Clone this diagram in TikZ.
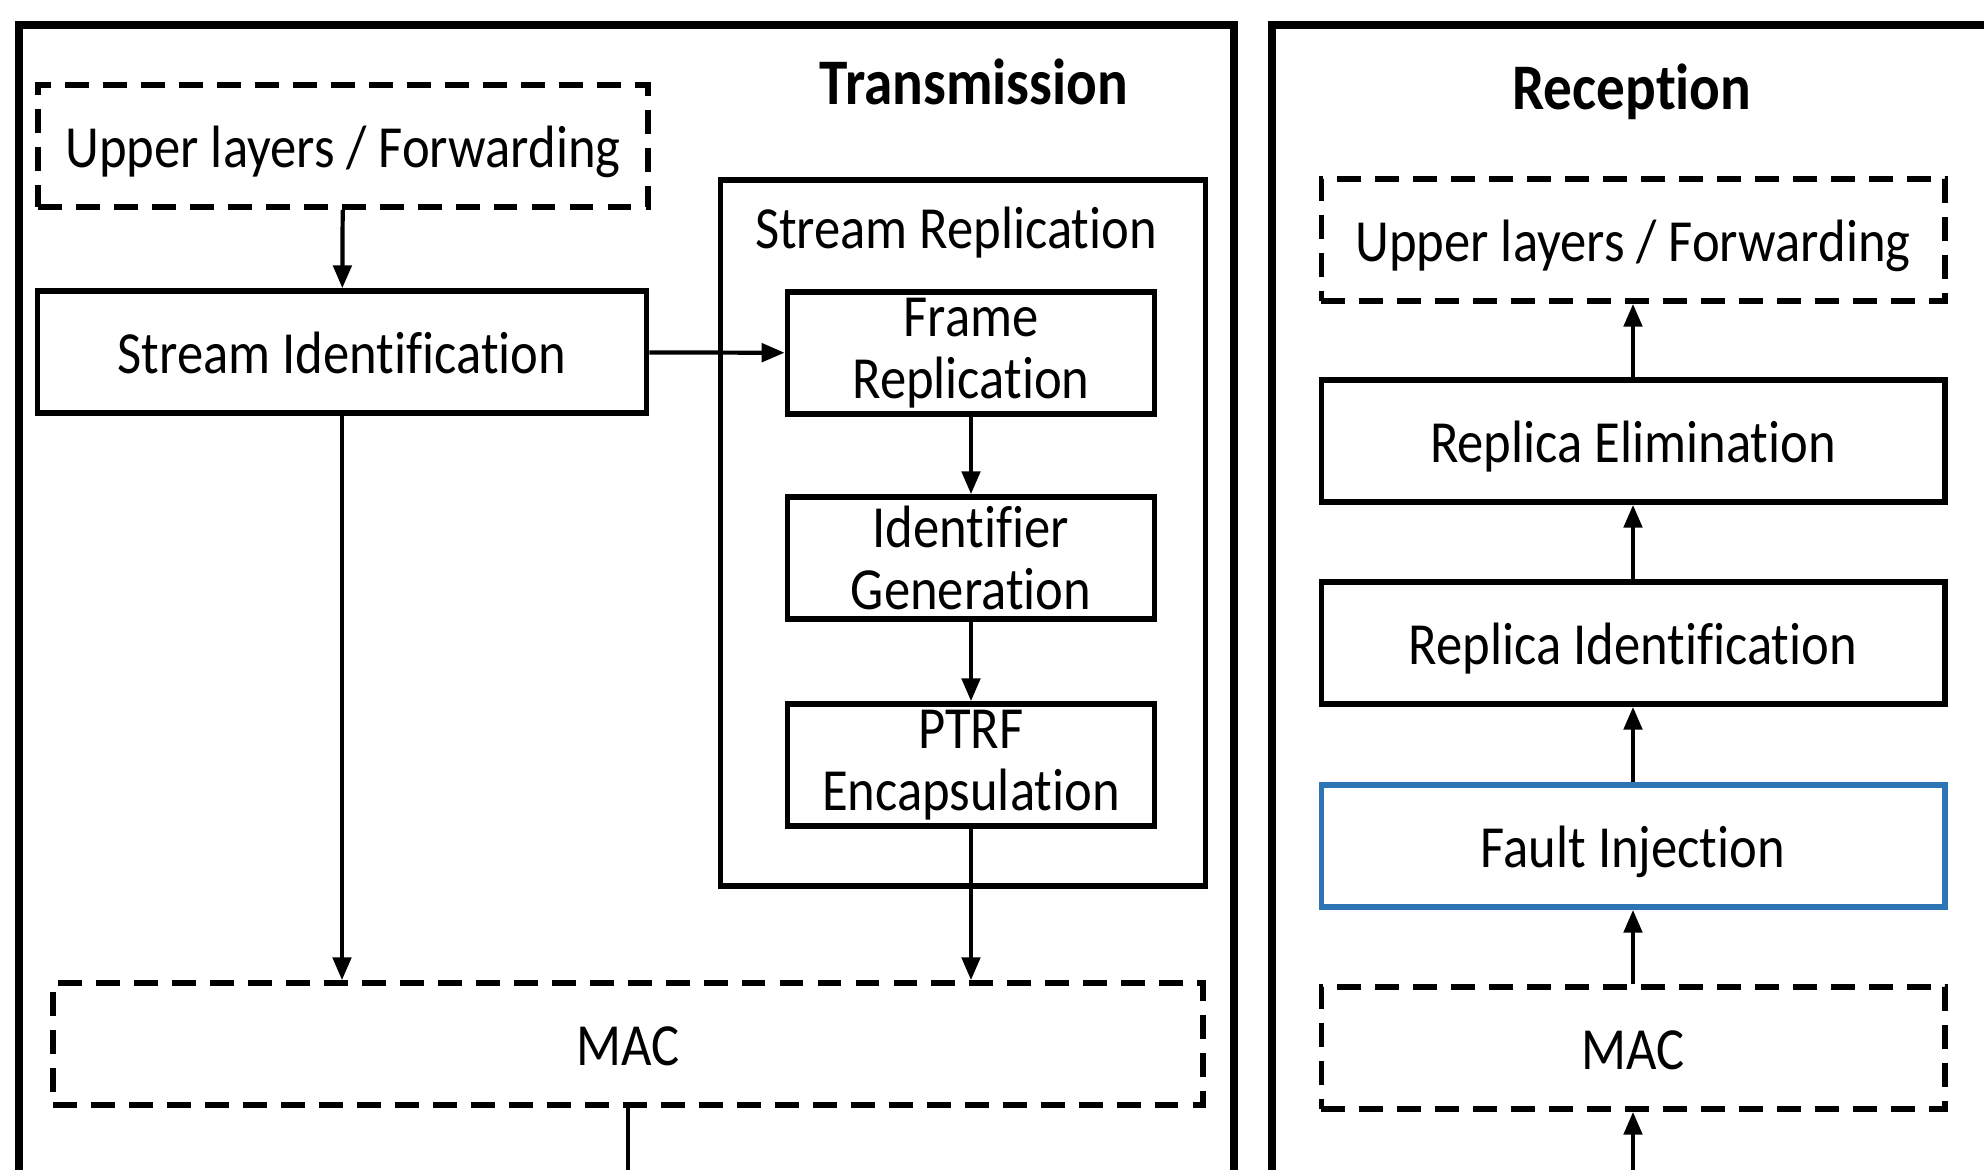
\documentclass[tikz,border=0pt]{standalone}
\usepackage{fontspec}
\setmainfont{Carlito}[FakeStretch=0.88, Ligatures=NoCommon]
\usetikzlibrary{arrows.meta,positioning,fit}
\definecolor{faultblue}{RGB}{46,117,182}

\begin{document}
\begin{tikzpicture}[
  x=0.01cm, y=-0.01cm,
  font=\fontsize{17}{17.6}\selectfont,
  frame/.style={draw, line width=2.4pt},
  box/.style={draw, line width=1.6pt, align=center, inner sep=0pt, minimum height=1.22cm,
    fill=white, text height=12pt, text depth=0pt},
  twobox/.style={box, text height=, text depth=},
  dbox/.style={box, dash pattern=on 6.8pt off 4pt},
  title/.style={font=\fontsize{18.5}{20}\selectfont\bfseries, anchor=base},
  arrow/.style={-{Triangle[length=6.5pt,width=5.2pt]}, line width=1.2pt}
]
\useasboundingbox (0,0) rectangle (1984,1169);

\draw[frame] (19,1250) -- (19,25) -- (1234,25) -- (1234,1250);
\draw[frame] (1272,1250) -- (1272,25) -- (2100,25);

\node[title] (tx) at (974,104) {Transmission};
\node[title] (rx) at (1632,109) {Reception};

% transmission side
\node[dbox, minimum width=6.1cm] (upL) at (343,146) {Upper layers / Forwarding};
\node[box, minimum width=6.09cm] (sid) at (342,352) {Stream Identification};

\node[box, minimum width=4.85cm, minimum height=7.05cm, text height=, text depth=] (srep) at (963,533) {};
\node[anchor=base] (srept) at (956,248) {Stream Replication};

\node[twobox, minimum width=3.67cm] (frep) at (971,353) {Frame\\Replication};
\node[twobox, minimum width=3.67cm] (igen) at (971,558) {Identifier\\Generation};
\node[twobox, minimum width=3.67cm] (ptrf) at (971,765) {PTRF\\Encapsulation};

\node[dbox, minimum width=11.49cm] (macL) at (628,1044) {MAC};
\coordinate (outL) at (628,1200);

\draw[arrow] (upL) -- (sid);
\draw[arrow] (sid) -- (frep);
\draw[arrow] (sid.south) -- (sid.south |- macL.north);
\draw[arrow] (frep) -- (igen);
\draw[arrow] (igen) -- (ptrf);
\draw[arrow] (ptrf.south) -- (ptrf.south |- macL.north);
\draw[arrow] (macL.south) -- (macL.south |- outL);

% reception side
\node[dbox, minimum width=6.23cm] (upR) at (1633,240) {Upper layers / Forwarding};
\node[box, minimum width=6.23cm] (relim) at (1633,441) {Replica Elimination};
\node[box, minimum width=6.23cm] (rid) at (1633,643) {Replica Identification};
\node[box, minimum width=6.23cm, draw=faultblue] (fault) at (1633,846) {Fault Injection};
\node[dbox, minimum width=6.23cm] (macR) at (1633,1048) {MAC};
\coordinate (inR) at (1633,1200);

\draw[arrow] (inR) -- (inR |- macR.south);
\draw[arrow] (macR) -- (fault);
\draw[arrow] (fault) -- (rid);
\draw[arrow] (rid) -- (relim);
\draw[arrow] (relim) -- (upR);

\end{tikzpicture}
\end{document}
